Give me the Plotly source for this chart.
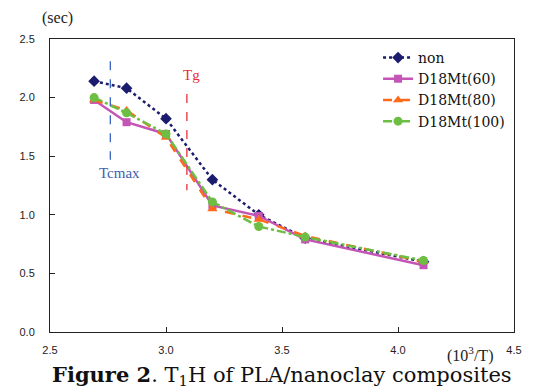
import plotly.graph_objects as go

x_vals = [2.69, 2.83, 3.00, 3.20, 3.40, 3.60, 4.11]
non = [2.14, 2.08, 1.82, 1.30, 1.00, 0.80, 0.60]
d60 = [1.98, 1.79, 1.69, 1.08, 0.99, 0.79, 0.57]
d80 = [1.98, 1.89, 1.66, 1.05, 0.96, 0.82, 0.60]
d100 = [2.00, 1.87, 1.69, 1.11, 0.90, 0.81, 0.61]

series_names = ["non", "D18Mt(60)", "D18Mt(80)", "D18Mt(100)"]
tcmax_x = 2.76
tg_x = 3.09

fig = go.Figure()
styles = [
    (non, "#1c1c6e", "dot", "diamond", 9),
    (d60, "#c455b6", "solid", "square", 8),
    (d80, "#ff6a1a", "dash", "triangle-up", 9),
    (d100, "#6cbf42", "dashdot", "circle", 9),
]
for name, (ys, col, dash, sym, ms) in zip(series_names, styles):
    fig.add_trace(go.Scatter(
        x=x_vals, y=ys, name=name, mode="lines+markers",
        line=dict(color=col, width=2.5, dash=dash),
        marker=dict(color=col, symbol=sym, size=ms),
    ))

fig.add_trace(go.Scatter(x=[tcmax_x, tcmax_x], y=[2.31, 1.47], mode="lines",
                         line=dict(color="#3a64c0", width=1.3, dash="dash"),
                         showlegend=False, hoverinfo="skip"))
fig.add_trace(go.Scatter(x=[tg_x, tg_x], y=[2.03, 1.21], mode="lines",
                         line=dict(color="#e8303a", width=1.3, dash="dash"),
                         showlegend=False, hoverinfo="skip"))

fig.add_annotation(x=2.80, y=1.36, text="Tcmax", showarrow=False,
                   font=dict(family="Liberation Serif", size=15, color="#4060b0"))
fig.add_annotation(x=3.11, y=2.19, text="Tg", showarrow=False,
                   font=dict(family="Liberation Serif", size=15, color="#e8303a"))

fig.add_annotation(x=0.017, y=1.0, xref="paper", yref="paper", yshift=21,
                   text="(sec)", showarrow=False, xanchor="center", yanchor="middle",
                   font=dict(family="Liberation Serif", size=16, color="#222"))
fig.add_annotation(x=0.905, y=0, xref="paper", yref="paper", yshift=-22,
                   text="(10<sup>3</sup>/T)", showarrow=False, xanchor="center", yanchor="middle",
                   font=dict(family="Liberation Serif", size=16, color="#222"))
fig.add_annotation(x=0.50, y=0, xref="paper", yref="paper", yshift=-43,
                   text="<b>Figure 2</b>. T<sub>1</sub>H of PLA/nanoclay composites",
                   showarrow=False, xanchor="center", yanchor="middle",
                   font=dict(family="DejaVu Serif", size=21, color="#111"))

fig.update_layout(
    width=538, height=384,
    margin=dict(l=39, r=32, t=31, b=60),
    plot_bgcolor="white", paper_bgcolor="white",
    font=dict(family="Liberation Sans", size=11, color="#222"),
    legend=dict(x=0.707, y=0.99, xanchor="left", yanchor="top",
                font=dict(family="DejaVu Serif", size=14, color="#111"),
                bgcolor="rgba(0,0,0,0)", tracegroupgap=0, itemwidth=30),
    xaxis=dict(range=[2.5, 4.5], tickvals=[2.5, 3.0, 3.5, 4.0, 4.5],
               ticktext=["2.5", "3.0", "3.5", "4.0", "4.5"],
               showgrid=False, zeroline=False, showline=True, linecolor="#222",
               linewidth=1, mirror=True, ticks="inside", ticklen=5, tickcolor="#222",
               ticklabelstandoff=8),
    yaxis=dict(range=[0, 2.5], tickvals=[0, 0.5, 1.0, 1.5, 2.0, 2.5],
               ticktext=["0.0", "0.5", "1.0", "1.5", "2.0", "2.5"],
               showgrid=False, zeroline=False, showline=True, linecolor="#222",
               linewidth=1, mirror=True, ticks="inside", ticklen=5, tickcolor="#222",
               ticklabelstandoff=12),
)

fig.write_html("out.html")
